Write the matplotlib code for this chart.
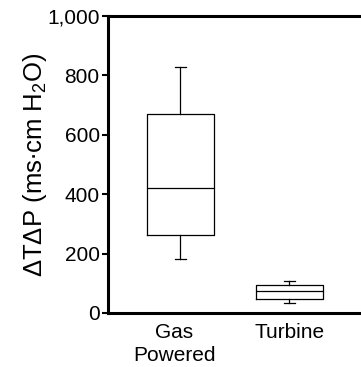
import matplotlib
matplotlib.use("Agg")
import matplotlib.pyplot as plt
import matplotlib.transforms as mtransforms

plt.rcParams['font.family'] = ['Liberation Sans', 'DejaVu Sans']
plt.rcParams['mathtext.fontset'] = 'custom'
plt.rcParams['mathtext.rm'] = 'Liberation Sans'
plt.rcParams['mathtext.it'] = 'Liberation Sans:italic'

# box statistics per group
groups = ['Gas\nPowered', 'Turbine']
whislo = [183, 35]
q1 = [263, 48]
med = [420, 74]
q3 = [671, 94]
whishi = [829, 109]

stats = []
for i in range(len(groups)):
    stats.append(dict(whislo=whislo[i], q1=q1[i], med=med[i], q3=q3[i],
                      whishi=whishi[i], fliers=[], label=groups[i]))

fig = plt.figure(figsize=(3.61, 3.67), dpi=100)
ax = fig.add_axes([108/361, 54/367, 270/361, 297/367])

lw = 0.9
ax.bxp(stats, positions=[1, 2], widths=0.615, showfliers=False,
       boxprops=dict(color='black', linewidth=lw),
       medianprops=dict(color='black', linewidth=lw),
       whiskerprops=dict(color='black', linewidth=lw),
       capprops=dict(color='black', linewidth=lw),
       capwidths=0.1)

ax.set_xlim(0.335, 0.335 + 270/109)
ax.set_ylim(0, 1000)
ax.set_yticks([0, 200, 400, 600, 800, 1000])
ax.set_yticklabels(['0', '200', '400', '600', '800', '1,000'])

for s in ['top', 'left', 'bottom']:
    ax.spines[s].set_linewidth(2.2)
ax.spines['right'].set_visible(False)

ax.tick_params(axis='y', direction='out', length=4, width=1.5, labelsize=15, pad=2)
ax.tick_params(axis='x', length=0, labelsize=15, pad=7)
for t in ax.get_xticklabels():
    t.set_linespacing(1.3)

# first category label sits a little left of its box
lbl = ax.get_xticklabels()[0]
lbl.set_transform(lbl.get_transform() +
                  mtransforms.ScaledTranslation(-6/100, 0, fig.dpi_scale_trans))

ax.set_ylabel('\u0394T\u0394P (ms\u2219cm H$_2$O)', fontsize=18.5, labelpad=-1)

fig.savefig('out.png', dpi=100)
